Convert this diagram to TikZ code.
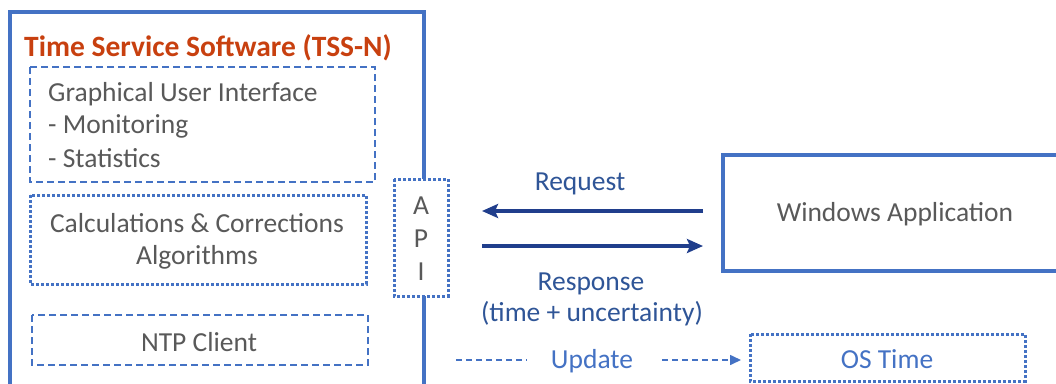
\documentclass[tikz,border=0pt]{standalone}
\usepackage{fontspec}
\setmainfont{Carlito}
\usetikzlibrary{arrows.meta}
\definecolor{boxblue}{HTML}{4472C4}
\definecolor{arrblue}{HTML}{203E8C}
\definecolor{lblblue}{HTML}{2F5597}
\definecolor{txtgray}{HTML}{595959}
\definecolor{titlered}{HTML}{C8400F}
\tikzset{
  txt/.style={font=\fontsize{27.5}{32}\selectfont, text=txtgray, inner sep=0pt},
  lbl/.style={font=\fontsize{27.5}{31}\selectfont, text=lblblue, inner sep=0pt},
  dashbox/.style={draw=boxblue, line width=2.2pt, dash pattern=on 7pt off 4pt},
  dotbox/.style={draw=boxblue, line width=3pt, dash pattern=on 2.6pt off 2.4pt},
  solidbox/.style={draw=boxblue, line width=3.4pt},
  bigarrow/.style={draw=arrblue, line width=3.2pt, -{Stealth[length=16pt,width=14pt,inset=3pt]}},
}
\begin{document}
\begin{tikzpicture}[x=1pt,y=-1pt]
\clip (0,0) rectangle (1056,383);
\fill[white] (0,0) rectangle (1056,383);
% outer TSS box (open at bottom)
\draw[solidbox] (10,400) -- (10,12) -- (424,12) -- (424,400);
\node[anchor=west, font=\fontsize{29.5}{34}\selectfont\bfseries, text=titlered, inner sep=0pt] (title) at (24,48) {Time Service Software (TSS-N)};
% GUI
\draw[dashbox] (30,67) rectangle (375,182);
\node[txt, anchor=west] (gui1) at (48,94) {Graphical User Interface};
\node[txt, anchor=west] (gui2) at (48,126) {- Monitoring};
\node[txt, anchor=west] (gui3) at (48,158) {- Statistics};
% Calculations
\draw[dotbox] (30,195) rectangle (366,284);
\node[txt, align=center] (calc) at (197,241) {Calculations \& Corrections\\Algorithms};
% NTP
\draw[dashbox] (32,315) rectangle (368,365);
\node[txt] (ntp) at (199,342) {NTP Client};
% API
\filldraw[dotbox, fill=white] (394,179) rectangle (448,296);
\node[txt, align=center, font=\fontsize{27.5}{33}\selectfont] (api) at (421,239) {A\\P\\I};
% Windows application
\draw[solidbox] (723,155) rectangle (1070,271);
\node[txt] (win) at (895,214) {Windows Application};
% arrows
\coordinate (reqs) at (703,211);
\coordinate (reqe) at (482,211);
\coordinate (ress) at (482,246);
\coordinate (rese) at (703,246);
\draw[bigarrow] (reqs) -- (reqe);
\draw[bigarrow] (ress) -- (rese);
\node[lbl] (req) at (580,184) {Request};
\node[lbl] (resp) at (591,284) {Response};
\node[lbl] (resp2) at (592,314) {(time + uncertainty)};
% OS time
\draw[dotbox] (750,334) rectangle (1025,381);
\node[lbl, text=boxblue] (os) at (887,359) {OS Time};
% update legend
\node[lbl, text=boxblue] (upd) at (592,361) {Update};
\coordinate (u1) at (456,360);
\coordinate (u2) at (527,360);
\coordinate (u3) at (662,360);
\coordinate (u4) at (741,360);
\draw[boxblue, line width=1.6pt, dash pattern=on 6pt off 4pt] (u1) -- (u2);
\draw[boxblue, line width=1.6pt, dash pattern=on 6pt off 4pt, -{Triangle[length=11pt,width=10pt]}] (u3) -- (u4);
\end{tikzpicture}
\end{document}
